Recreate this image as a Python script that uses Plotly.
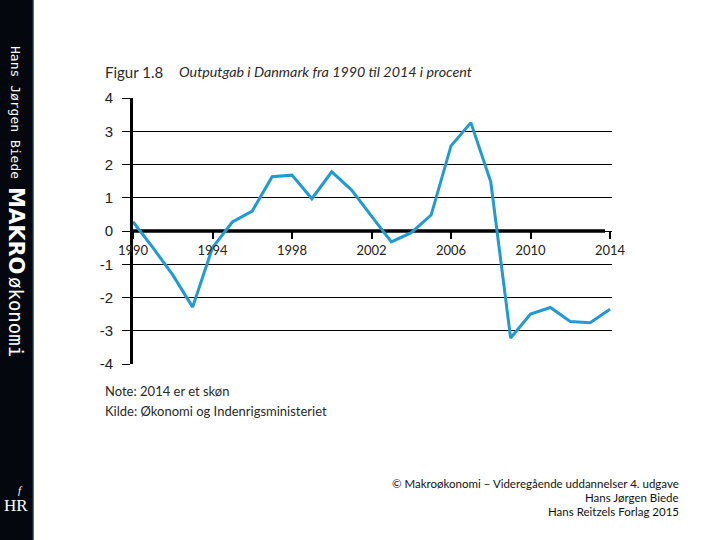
import plotly.graph_objects as go

years = list(range(1990, 2015))
output_gap = [0.28, -0.5, -1.32, -2.29, -0.5, 0.27, 0.6, 1.63, 1.68, 0.97,
              1.78, 1.23, 0.45, -0.33, -0.05, 0.48, 2.56, 3.26, 1.48, -3.22,
              -2.5, -2.3, -2.72, -2.76, -2.35]
x_tick_vals = [1990, 1994, 1998, 2002, 2006, 2010, 2014]
x_tick_text = ["1990", "1994", "1998", "2002", "2006", "2010", "2014"]
y_tick_vals = [4, 3, 2, 1, 0, -1, -2, -3, -4]
y_tick_text = ["4", "3", "2", "1", "0", "-1", "-2", "-3", "-4"]

title_num = "Figur 1.8"
title_text = "Outputgab i Danmark fra 1990 til 2014 i procent"
note_text = "Note: 2014 er et skøn"
source_text = "Kilde: Økonomi og Indenrigsministeriet"
credit_lines = ["© Makroøkonomi – Videregående uddannelser 4. udgave",
                "Hans Jørgen Biede",
                "Hans Reitzels Forlag 2015"]

W, H = 720, 540
L, R, T, B = 133, 108, 98, 176
PW, PH = W - L - R, H - T - B


def px(x):
    return (x - L) / PW


def py(y):
    return (H - B - y) / PH


fig = go.Figure()
fig.add_trace(go.Scatter(x=years, y=output_gap, mode="lines",
                         line=dict(color="#1f9ad6", width=3),
                         showlegend=False, hoverinfo="skip"))

shapes = [
    dict(type="rect", xref="paper", yref="paper", x0=px(0), x1=px(33), y0=py(540), y1=py(0),
         fillcolor="#04080e", line=dict(width=0), layer="below"),
    dict(type="line", xref="paper", yref="paper", x0=px(33), x1=px(33), y0=py(540), y1=py(0),
         line=dict(color="#1b3448", width=1.5)),
    dict(type="line", xref="x", yref="y", x0=1990, x1=2013.75, y0=0, y1=0,
         line=dict(color="black", width=3.5), layer="below"),
]

annotations = [
    dict(x=px(103), y=py(72), xref="paper", yref="paper", text=title_num, showarrow=False,
         xanchor="left", yanchor="middle", font=dict(family="Lato", size=15, color="#2a2a2a")),
    dict(x=px(177), y=py(72), xref="paper", yref="paper", text="<i>" + title_text + "</i>",
         showarrow=False, xanchor="left", yanchor="middle",
         font=dict(family="Lato", size=14.3, color="#2a2a2a")),
    dict(x=px(103), y=py(391), xref="paper", yref="paper", text=note_text, showarrow=False,
         xanchor="left", yanchor="middle", font=dict(family="Lato", size=13, color="#2a2a2a")),
    dict(x=px(103), y=py(411), xref="paper", yref="paper", text=source_text, showarrow=False,
         xanchor="left", yanchor="middle", font=dict(family="Lato", size=13, color="#2a2a2a")),
    dict(x=px(16), y=py(112), xref="paper", yref="paper", text="Hans Jørgen Biede",
         showarrow=False, textangle=90, xanchor="center", yanchor="middle",
         font=dict(family="DejaVu Sans Mono", size=13, color="white")),
    dict(x=px(16), y=py(230), xref="paper", yref="paper", text="<b>MAKRO</b>",
         showarrow=False, textangle=90, xanchor="center", yanchor="middle",
         font=dict(family="DejaVu Sans", size=21, color="white")),
    dict(x=px(16), y=py(317), xref="paper", yref="paper", text="økonomi",
         showarrow=False, textangle=90, xanchor="center", yanchor="middle",
         font=dict(family="DejaVu Sans Mono", size=19, color="white")),
    dict(x=px(16), y=py(505), xref="paper", yref="paper", text="HR",
         showarrow=False, xanchor="center", yanchor="middle",
         font=dict(family="Liberation Serif", size=17, color="white")),
    dict(x=px(20), y=py(490), xref="paper", yref="paper", text="<i>f</i>",
         showarrow=False, xanchor="center", yanchor="middle",
         font=dict(family="Liberation Serif", size=11, color="white")),
]
for i, line in enumerate(credit_lines):
    annotations.append(dict(x=px(681), y=py(483 + 14 * i), xref="paper", yref="paper",
                            text=line, showarrow=False, xanchor="right", yanchor="middle",
                            font=dict(family="Lato", size=11.5, color="#111")))

fig.update_layout(
    width=W, height=H,
    margin=dict(l=L, r=R, t=T, b=B, pad=0),
    paper_bgcolor="white", plot_bgcolor="white",
    shapes=shapes, annotations=annotations,
    xaxis=dict(range=[1990, 2014.1], tickvals=x_tick_vals, ticktext=x_tick_text,
               anchor="free", position=0.5, showgrid=False, zeroline=False, showline=False,
               ticks="outside", ticklen=7, tickwidth=2, tickcolor="black",
               tickfont=dict(family="Lato", size=13, color="#222")),
    yaxis=dict(range=[-4, 4], tickvals=y_tick_vals, ticktext=y_tick_text,
               showgrid=True, gridcolor="black", gridwidth=1, zeroline=False,
               showline=True, linecolor="black", linewidth=3,
               ticks="outside", ticklen=8, tickwidth=1, tickcolor="black",
               ticklabelstandoff=6,
               tickfont=dict(family="Liberation Sans", size=15, color="#222")),
)

fig.write_html("out.html", config={"displayModeBar": False},
               post_script="document.body.style.margin='0';")
